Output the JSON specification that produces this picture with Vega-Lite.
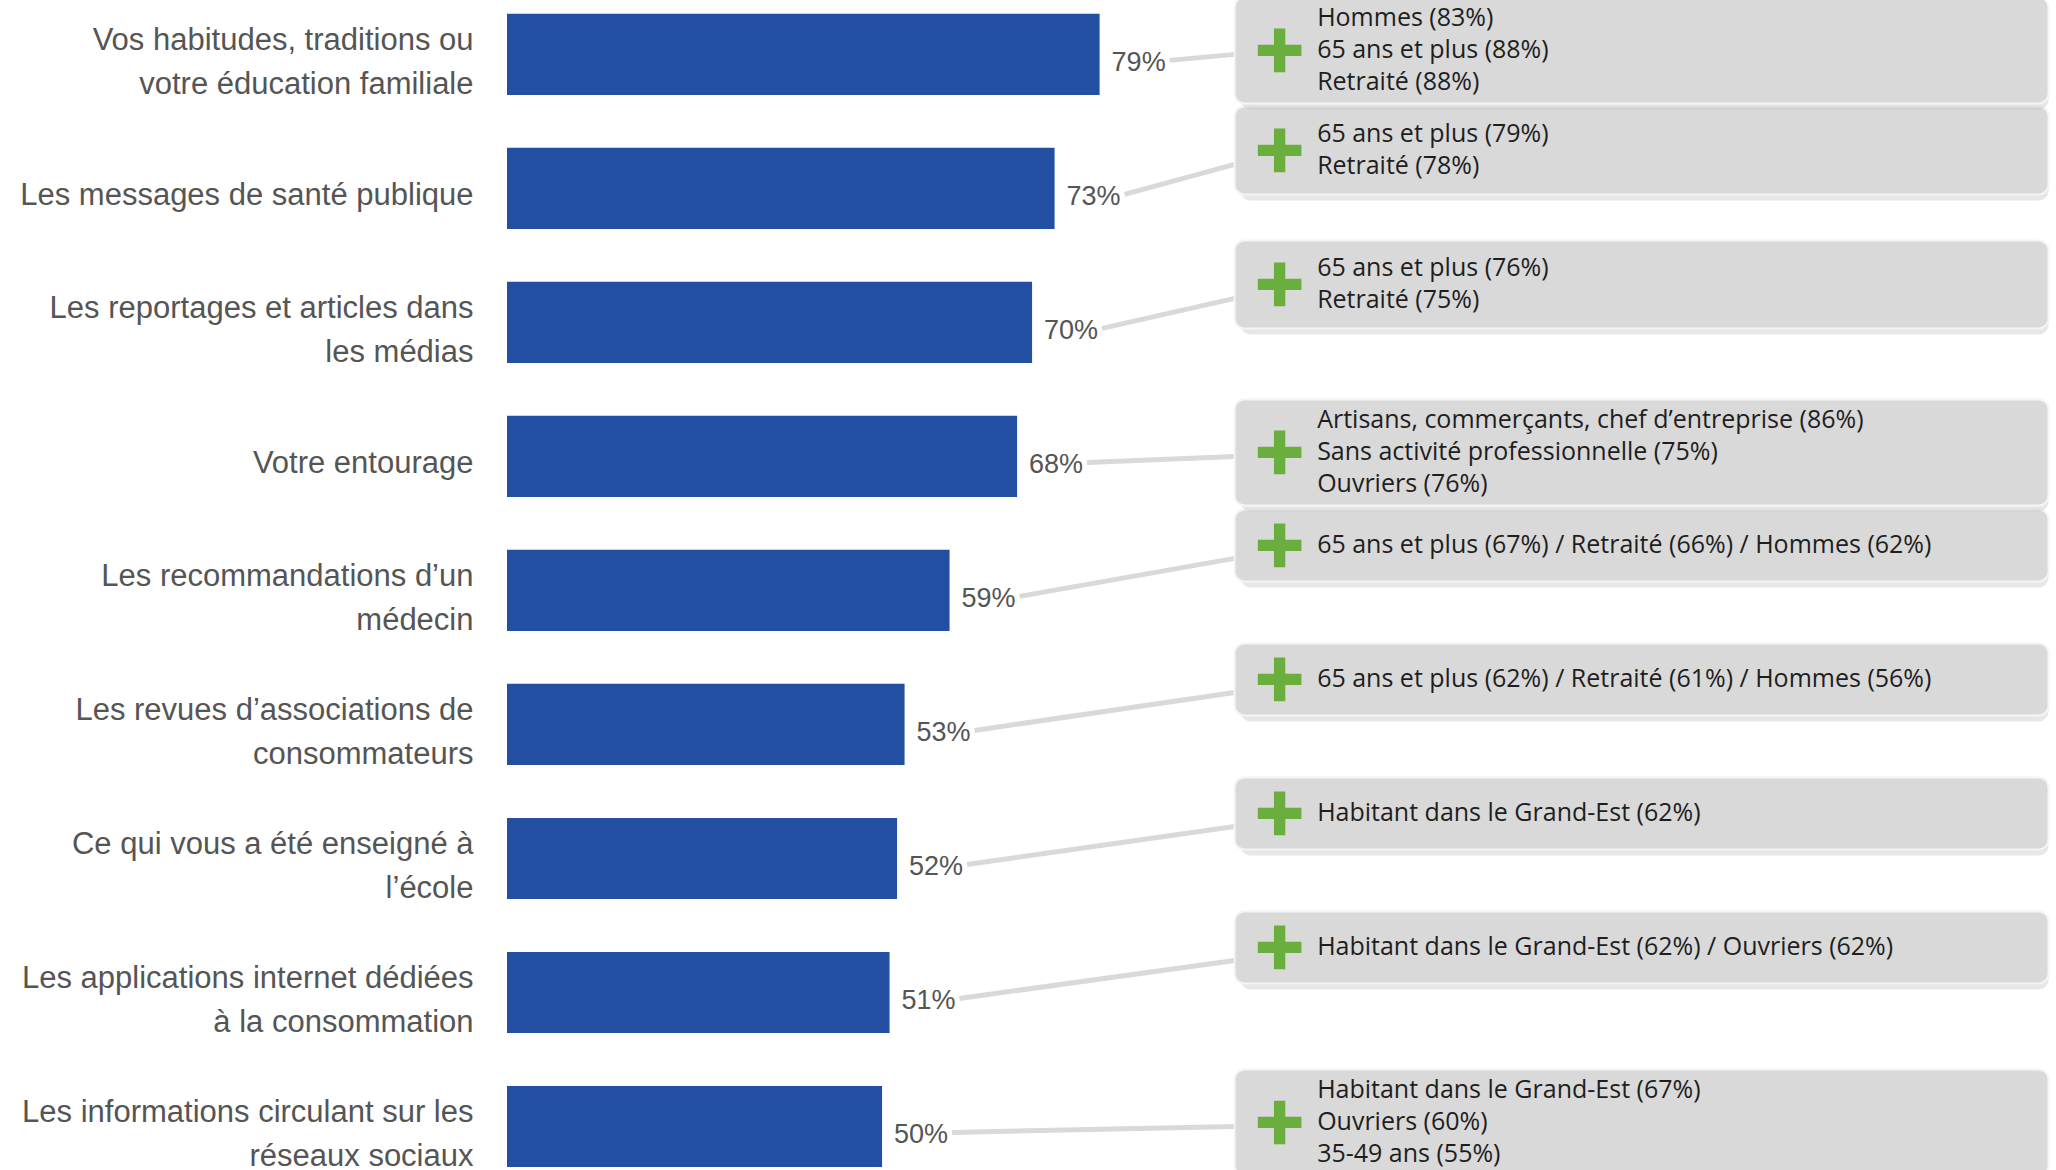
{
  "$schema": "https://vega.github.io/schema/vega-lite/v6.json",
  "width": 1549,
  "height": 1170,
  "autosize": {"type": "none"},
  "padding": {"left": 507, "top": 0, "right": 0, "bottom": 0},
  "background": "white",
  "config": {"view": {"stroke": null}},
  "data": {
    "values": [
      {"categorie": "Vos habitudes, traditions ou\nvotre éducation familiale", "valeur": 0.79, "note": "Hommes (83%)\n65 ans et plus (88%)\nRetraité (88%)"},
      {"categorie": "Les messages de santé publique", "valeur": 0.73, "note": "65 ans et plus (79%)\nRetraité (78%)"},
      {"categorie": "Les reportages et articles dans\nles médias", "valeur": 0.70, "note": "65 ans et plus (76%)\nRetraité (75%)"},
      {"categorie": "Votre entourage", "valeur": 0.68, "note": "Artisans, commerçants, chef d’entreprise (86%)\nSans activité professionnelle (75%)\nOuvriers (76%)"},
      {"categorie": "Les recommandations d’un\nmédecin", "valeur": 0.59, "note": "65 ans et plus (67%)  / Retraité (66%) / Hommes (62%)"},
      {"categorie": "Les revues d’associations de\nconsommateurs", "valeur": 0.53, "note": "65 ans et plus (62%)  / Retraité (61%) / Hommes (56%)"},
      {"categorie": "Ce qui vous a été enseigné à\nl’école", "valeur": 0.52, "note": "Habitant dans le Grand-Est (62%)"},
      {"categorie": "Les applications internet dédiées\nà la consommation", "valeur": 0.51, "note": "Habitant dans le Grand-Est (62%)  /  Ouvriers (62%)"},
      {"categorie": "Les informations circulant sur les\nréseaux sociaux", "valeur": 0.50, "note": "Habitant dans le Grand-Est  (67%)\nOuvriers (60%)\n35-49 ans (55%)"}
    ]
  },
  "encoding": {
    "y": {
      "field": "categorie",
      "type": "nominal",
      "sort": null,
      "scale": {
        "domain": [
          "Vos habitudes, traditions ou\nvotre éducation familiale",
          "Les messages de santé publique",
          "Les reportages et articles dans\nles médias",
          "Votre entourage",
          "Les recommandations d’un\nmédecin",
          "Les revues d’associations de\nconsommateurs",
          "Ce qui vous a été enseigné à\nl’école",
          "Les applications internet dédiées\nà la consommation",
          "Les informations circulant sur les\nréseaux sociaux"
        ],
        "paddingInner": 0.395, "paddingOuter": 0.063, "align": 0.82
      },
      "axis": {
        "title": null,
        "ticks": false,
        "domain": false,
        "grid": false,
        "labelExpr": "split(datum.label, '\\n')",
        "labelFontSize": 31,
        "labelFont": "Liberation Sans",
        "labelColor": "#555555",
        "labelPadding": 34,
        "labelLimit": 0,
        "labelLineHeight": 44,
        "labelOffset": {"condition": {"test": "indexof(datum.label, '\\n') >= 0", "value": -13}, "value": 8}
      }
    },
    "x": {"field": "valeur", "type": "quantitative", "scale": {"domain": [0, 2.065], "nice": false, "zero": true}, "axis": null}
  },
  "layer": [
    {
      "transform": [{"filter": "length(split(datum.note, '\\n')) == 1"}],
      "layer": [
        {"mark": {"type": "rule", "color": "#d9d9d9", "strokeWidth": 5, "xOffset": 70, "yOffset": 6, "y2Offset": -32},
         "encoding": {"x2": {"datum": 0.97}, "y2": {"field": "categorie"}}},
        {"mark": {"type": "rect", "height": 72, "yOffset": -39, "xOffset": 6, "color": "#bbbbbb", "opacity": 0.35, "cornerRadius": 10},
         "encoding": {"x": {"datum": 0.97}, "x2": {"datum": 2.055}}},
        {"mark": {"type": "rect", "height": 72, "yOffset": -45, "color": "#d9d9d9", "stroke": "#f4f4f4", "strokeWidth": 2, "cornerRadius": 10},
         "encoding": {"x": {"datum": 0.97}, "x2": {"datum": 2.055}}},
        {"mark": {"type": "point", "shape": "M-0.26,-1H0.26V-0.26H1V0.26H0.26V1H-0.26V0.26H-1V-0.26H-0.26Z", "filled": true, "color": "#6aae3e", "opacity": 1, "size": 1900, "yOffset": -45},
         "encoding": {"x": {"datum": 1.03}}},
        {"mark": {"type": "text", "align": "left", "baseline": "middle", "lineBreak": "\n", "lineHeight": 32, "fontSize": 25, "font": "Open Sans", "color": "#1e1e1e", "yOffset": -45},
         "encoding": {"x": {"datum": 1.08}, "text": {"field": "note"}}}
      ]
    },
    {
      "transform": [{"filter": "length(split(datum.note, '\\n')) == 2"}],
      "layer": [
        {"mark": {"type": "rule", "color": "#d9d9d9", "strokeWidth": 5, "xOffset": 70, "yOffset": 6, "y2Offset": -24},
         "encoding": {"x2": {"datum": 0.97}, "y2": {"field": "categorie"}}},
        {"mark": {"type": "rect", "height": 88, "yOffset": -32, "xOffset": 6, "color": "#bbbbbb", "opacity": 0.35, "cornerRadius": 10},
         "encoding": {"x": {"datum": 0.97}, "x2": {"datum": 2.055}}},
        {"mark": {"type": "rect", "height": 88, "yOffset": -38, "color": "#d9d9d9", "stroke": "#f4f4f4", "strokeWidth": 2, "cornerRadius": 10},
         "encoding": {"x": {"datum": 0.97}, "x2": {"datum": 2.055}}},
        {"mark": {"type": "point", "shape": "M-0.26,-1H0.26V-0.26H1V0.26H0.26V1H-0.26V0.26H-1V-0.26H-0.26Z", "filled": true, "color": "#6aae3e", "opacity": 1, "size": 1900, "yOffset": -38},
         "encoding": {"x": {"datum": 1.03}}},
        {"mark": {"type": "text", "align": "left", "baseline": "middle", "lineBreak": "\n", "lineHeight": 32, "fontSize": 25, "font": "Open Sans", "color": "#1e1e1e", "yOffset": -54},
         "encoding": {"x": {"datum": 1.08}, "text": {"field": "note"}}}
      ]
    },
    {
      "transform": [{"filter": "length(split(datum.note, '\\n')) == 3"}],
      "layer": [
        {"mark": {"type": "rule", "color": "#d9d9d9", "strokeWidth": 5, "xOffset": 70, "yOffset": 6, "y2Offset": 0},
         "encoding": {"x2": {"datum": 0.97}, "y2": {"field": "categorie"}}},
        {"mark": {"type": "rect", "height": 106, "yOffset": 2, "xOffset": 6, "color": "#bbbbbb", "opacity": 0.35, "cornerRadius": 10},
         "encoding": {"x": {"datum": 0.97}, "x2": {"datum": 2.055}}},
        {"mark": {"type": "rect", "height": 106, "yOffset": -4, "color": "#d9d9d9", "stroke": "#f4f4f4", "strokeWidth": 2, "cornerRadius": 10},
         "encoding": {"x": {"datum": 0.97}, "x2": {"datum": 2.055}}},
        {"mark": {"type": "point", "shape": "M-0.26,-1H0.26V-0.26H1V0.26H0.26V1H-0.26V0.26H-1V-0.26H-0.26Z", "filled": true, "color": "#6aae3e", "opacity": 1, "size": 1900, "yOffset": -4},
         "encoding": {"x": {"datum": 1.03}}},
        {"mark": {"type": "text", "align": "left", "baseline": "middle", "lineBreak": "\n", "lineHeight": 32, "fontSize": 25, "font": "Open Sans", "color": "#1e1e1e", "yOffset": -36},
         "encoding": {"x": {"datum": 1.08}, "text": {"field": "note"}}}
      ]
    },
    {
      "mark": {"type": "bar", "color": "#234fa2"}
    },
    {
      "mark": {"type": "text", "align": "left", "baseline": "middle", "dx": 12, "dy": 9, "fontSize": 27, "font": "Liberation Sans", "color": "#555555"},
      "encoding": {
        "text": {"field": "valeur", "type": "quantitative", "format": ".0%"}
      }
    }
  ]
}
